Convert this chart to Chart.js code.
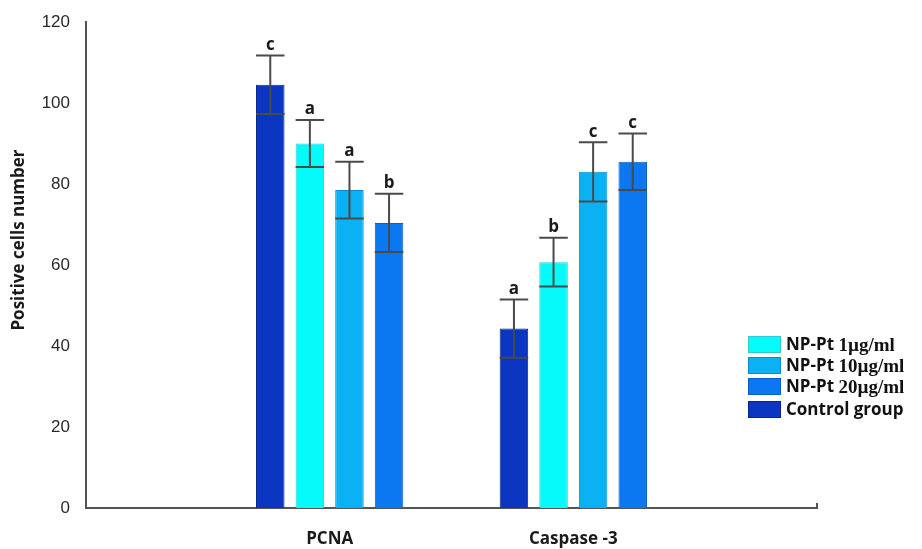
<!DOCTYPE html>
<html>
<head>
<meta charset="utf-8">
<script src="https://cdn.jsdelivr.net/npm/chart.js@4.4.1/dist/chart.umd.min.js"></script>
<style>
  html, body { margin: 0; padding: 0; background: #fff; }
  #wrap { position: relative; width: 922px; height: 549px; }
</style>
</head>
<body>
<div id="wrap"><canvas id="chart"></canvas></div>
<script>
// categories (blank ends keep the groups at 1/3 and 2/3 of the axis)
const categories = ['', 'PCNA', 'Caspase -3', ''];

// mean values per group
const controlVals = [null, 104.5, 44.3, null];
const np1Vals     = [null, 90.0, 60.7, null];
const np10Vals    = [null, 78.5, 83.0, null];
const np20Vals    = [null, 70.4, 85.5, null];

// error (± half-range)
const controlErr = [null, 7.2, 7.2, null];
const np1Err     = [null, 5.8, 6.0, null];
const np10Err    = [null, 7.0, 7.3, null];
const np20Err    = [null, 7.2, 7.0, null];

// significance letters
const controlSig = ['', 'c', 'a', ''];
const np1Sig     = ['', 'a', 'b', ''];
const np10Sig    = ['', 'a', 'c', ''];
const np20Sig    = ['', 'b', 'c', ''];

const yTicks = [0, 20, 40, 60, 80, 100, 120];

const SERIES = [
  { label: 'Control group',  data: controlVals, err: controlErr, sig: controlSig, color: '#0a36c2', border: '#06268c' },
  { label: 'NP-Pt 1µg/ml',   data: np1Vals,     err: np1Err,     sig: np1Sig,     color: '#05fafa', border: '#2ccccc' },
  { label: 'NP-Pt 10µg/ml',  data: np10Vals,    err: np10Err,    sig: np10Sig,    color: '#0ab2f4', border: '#0a8ccc' },
  { label: 'NP-Pt 20µg/ml',  data: np20Vals,    err: np20Err,    sig: np20Sig,    color: '#0b78f2', border: '#0a5cc8' },
];
const LEGEND_ORDER = [1, 2, 3, 0];

const AXIS = '#555555';

const errorBars = {
  id: 'errorBars',
  afterDatasetsDraw(chart) {
    const ctx = chart.ctx;
    const y = chart.scales.y;
    ctx.save();
    chart.data.datasets.forEach(function (ds, di) {
      const meta = chart.getDatasetMeta(di);
      meta.data.forEach(function (bar, i) {
        const v = ds.data[i];
        if (v == null) return;
        const e = ds.err[i];
        const yt = y.getPixelForValue(v + e);
        const yb = y.getPixelForValue(v - e);
        const half = bar.width / 2;
        ctx.strokeStyle = '#4a4a4a';
        ctx.lineWidth = 2;
        ctx.beginPath();
        ctx.moveTo(bar.x, yt); ctx.lineTo(bar.x, yb);
        ctx.moveTo(bar.x - half, yt); ctx.lineTo(bar.x + half, yt);
        ctx.moveTo(bar.x - half, yb); ctx.lineTo(bar.x + half, yb);
        ctx.stroke();
        ctx.fillStyle = '#1a1a1a';
        ctx.font = "bold 17px 'Open Sans'";
        ctx.textAlign = 'center';
        ctx.textBaseline = 'bottom';
        ctx.fillText(ds.sig[i], bar.x, yt - 2);
      });
    });
    ctx.restore();
  },
  afterDraw(chart) {
    const ctx = chart.ctx;
    const area = chart.chartArea;
    ctx.save();
    // small end tick on x axis
    ctx.strokeStyle = AXIS;
    ctx.lineWidth = 2;
    ctx.beginPath();
    ctx.moveTo(area.right, area.bottom + 1); ctx.lineTo(area.right, area.bottom - 5);
    ctx.stroke();

    // y axis title
    ctx.translate(19, 240);
    ctx.rotate(-Math.PI / 2);
    ctx.fillStyle = '#1a1a1a';
    ctx.font = "bold 17px 'Open Sans'";
    ctx.textAlign = 'center';
    ctx.textBaseline = 'middle';
    ctx.fillText('Positive cells number', 0, 0);
    ctx.restore();

    // legend
    ctx.save();
    const rows = [336, 357, 378, 401];
    LEGEND_ORDER.forEach(function (si, r) {
      const s = SERIES[si];
      ctx.fillStyle = s.color;
      ctx.fillRect(748, rows[r], 33, 17);
      ctx.strokeStyle = s.border;
      ctx.lineWidth = 1;
      ctx.strokeRect(748.5, rows[r] + 0.5, 32, 16);
      ctx.fillStyle = '#111';
      ctx.textBaseline = 'middle';
      ctx.textAlign = 'left';
      const ty = rows[r] + 9;
      if (s.label.indexOf('NP-Pt') === 0) {
        ctx.font = "bold 17px 'Open Sans'";
        ctx.fillText('NP-Pt ', 786, ty);
        const w = ctx.measureText('NP-Pt ').width;
        ctx.font = "bold 19px 'Liberation Serif'";
        ctx.fillText(s.label.slice(6), 786 + w, ty + 1);
      } else {
        ctx.font = "bold 17px 'Open Sans'";
        ctx.fillText(s.label, 786, ty);
      }
    });
    ctx.restore();
  }
};

new Chart(document.getElementById('chart').getContext('2d'), {
  type: 'bar',
  data: {
    labels: categories,
    datasets: SERIES.map(function (s) {
      return {
        label:              s.label,
        data:               s.data,
        err:                s.err,
        sig:                s.sig,
        backgroundColor:    s.color,
        borderColor:        s.border,
        borderWidth:        1,
        barPercentage:      0.72,
        categoryPercentage: 0.65,
      };
    }),
  },
  options: {
    responsive:          true,
    maintainAspectRatio: false,
    animation:           false,
    layout: { padding: { top: 22, right: 105, bottom: 0, left: 0 } },
    plugins: {
      legend:  { display: false },
      tooltip: { enabled: false },
    },
    scales: {
      x: {
        offset: false,
        grid:   { display: false },
        border: { color: AXIS, width: 2 },
        ticks:  { color: '#1a1a1a', font: { family: 'Open Sans', size: 17, weight: 'bold' }, padding: 13, maxRotation: 0 },
        afterFit: function (s) { s.height = 41; },
      },
      y: {
        min: 0,
        max: 120,
        grid:   { display: false },
        border: { color: AXIS, width: 2 },
        ticks:  {
          stepSize: 20,
          color: '#2a2a2a',
          font: { family: 'Liberation Sans', size: 17 },
          padding: 8,
          callback: function (v) { return yTicks.indexOf(v) >= 0 ? v : ''; },
        },
        afterFit: function (s) { s.width = 86; },
      },
    },
  },
  plugins: [errorBars],
});
</script>
</body>
</html>
